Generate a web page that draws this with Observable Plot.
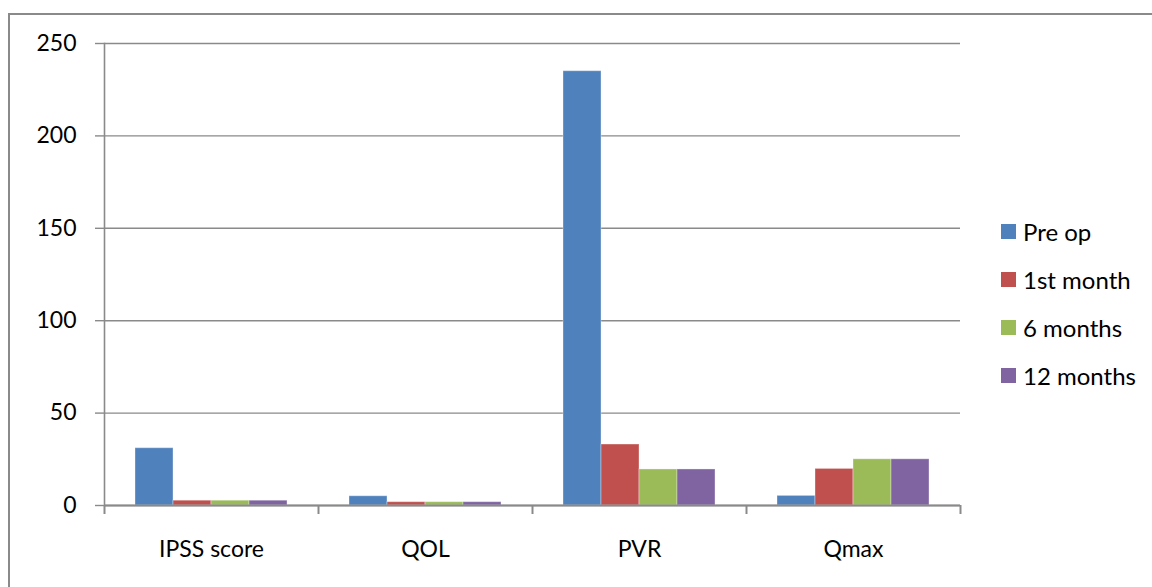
<!DOCTYPE html>
<html>
<head>
<meta charset="utf-8">
<script src="https://cdn.jsdelivr.net/npm/d3@7"></script>
<script src="https://cdn.jsdelivr.net/npm/@observablehq/plot@0.6"></script>
<style>
  html, body { margin: 0; padding: 0; background: #fff; }
  #wrap { position: relative; width: 1152px; height: 587px; overflow: hidden; font-family: Lato, "Open Sans", sans-serif; }
  #frame { position: absolute; left: 8px; top: 13px; width: 1300px; height: 700px; border: 2px solid #8a8a8a; box-sizing: border-box; }
  #chart { position: absolute; left: 0; top: 0; }
  #legend { position: absolute; left: 1001px; top: 207px; }
  .item { display: flex; align-items: center; height: 48px; font-size: 24px; color: #000; }
  .sw { width: 15px; height: 15px; margin-right: 7px; }
</style>
</head>
<body>
<div id="wrap">
  <div id="frame"></div>
  <div id="chart"></div>
  <div id="legend"></div>
</div>
<script>
const categories = ["IPSS score", "QOL", "PVR", "Qmax"];
const series = ["Pre op", "1st month", "6 months", "12 months"];
const preOp = [31, 5, 235, 5.2];
const month1 = [2.6, 1.8, 33, 19.8];
const month6 = [2.6, 1.8, 19.5, 25];
const month12 = [2.6, 1.8, 19.5, 25];
const colors = ["#4F81BD", "#C0504D", "#9BBB59", "#8064A2"];
const yTicks = [0, 50, 100, 150, 200, 250];

const valuesBySeries = [preOp, month1, month6, month12];
const data = [];
categories.forEach((c, ci) => {
  series.forEach((s, si) => data.push({category: c, series: s, value: valuesBySeries[si][ci]}));
});

const W = 970, H = 587, mL = 104, mR = 10, mT = 43, mB = 82;
const step = (W - mL - mR) / categories.length;
const gray = "#8a8a8a";
const font = "Lato, 'Open Sans', sans-serif";

const chart = Plot.plot({
  width: W, height: H,
  marginLeft: mL, marginRight: mR, marginTop: mT, marginBottom: mB,
  style: {fontFamily: font, fontSize: "23px", color: "#000", background: "transparent"},
  fx: {domain: categories, padding: 0, label: null, axis: null},
  x: {domain: series, paddingInner: 0, paddingOuter: 0.76, axis: null},
  y: {domain: [0, 250], label: null, axis: null},
  color: {domain: series, range: colors},
  marks: [
    Plot.ruleY(yTicks, {stroke: gray, strokeWidth: 1.4, strokeOpacity: 1}),
    Plot.barY(data, {fx: "category", x: "series", y: "value", fill: "series", inset: 0, stroke: "#ffffff", strokeOpacity: 0.35, strokeWidth: 1}),
    Plot.ruleY([0], {stroke: gray, strokeWidth: 2}),
    Plot.axisY({ticks: yTicks, tickSize: 9, tickPadding: 19, stroke: gray, strokeWidth: 1.4, fontSize: 23, label: null}),
    Plot.frame({anchor: "left", facetAnchor: "left", stroke: gray, strokeWidth: 1.6}),
    Plot.axisFx({anchor: "bottom", tickSize: 0, tickPadding: 35, fontSize: 23, label: null}),
    Plot.axisFx({anchor: "bottom", tickSize: 9, text: null, dx: -step / 2, stroke: gray, strokeWidth: 2, label: null}),
    Plot.axisFx({anchor: "bottom", ticks: [categories[categories.length - 1]], tickSize: 9, text: null, dx: step / 2, stroke: gray, strokeWidth: 2, label: null})
  ]
});
document.getElementById("chart").appendChild(chart);

const legend = document.getElementById("legend");
series.forEach((s, i) => {
  const item = document.createElement("div");
  item.className = "item";
  const sw = document.createElement("div");
  sw.className = "sw";
  sw.style.background = colors[i];
  const t = document.createElement("span");
  t.textContent = s;
  item.appendChild(sw);
  item.appendChild(t);
  legend.appendChild(item);
});
</script>
</body>
</html>
